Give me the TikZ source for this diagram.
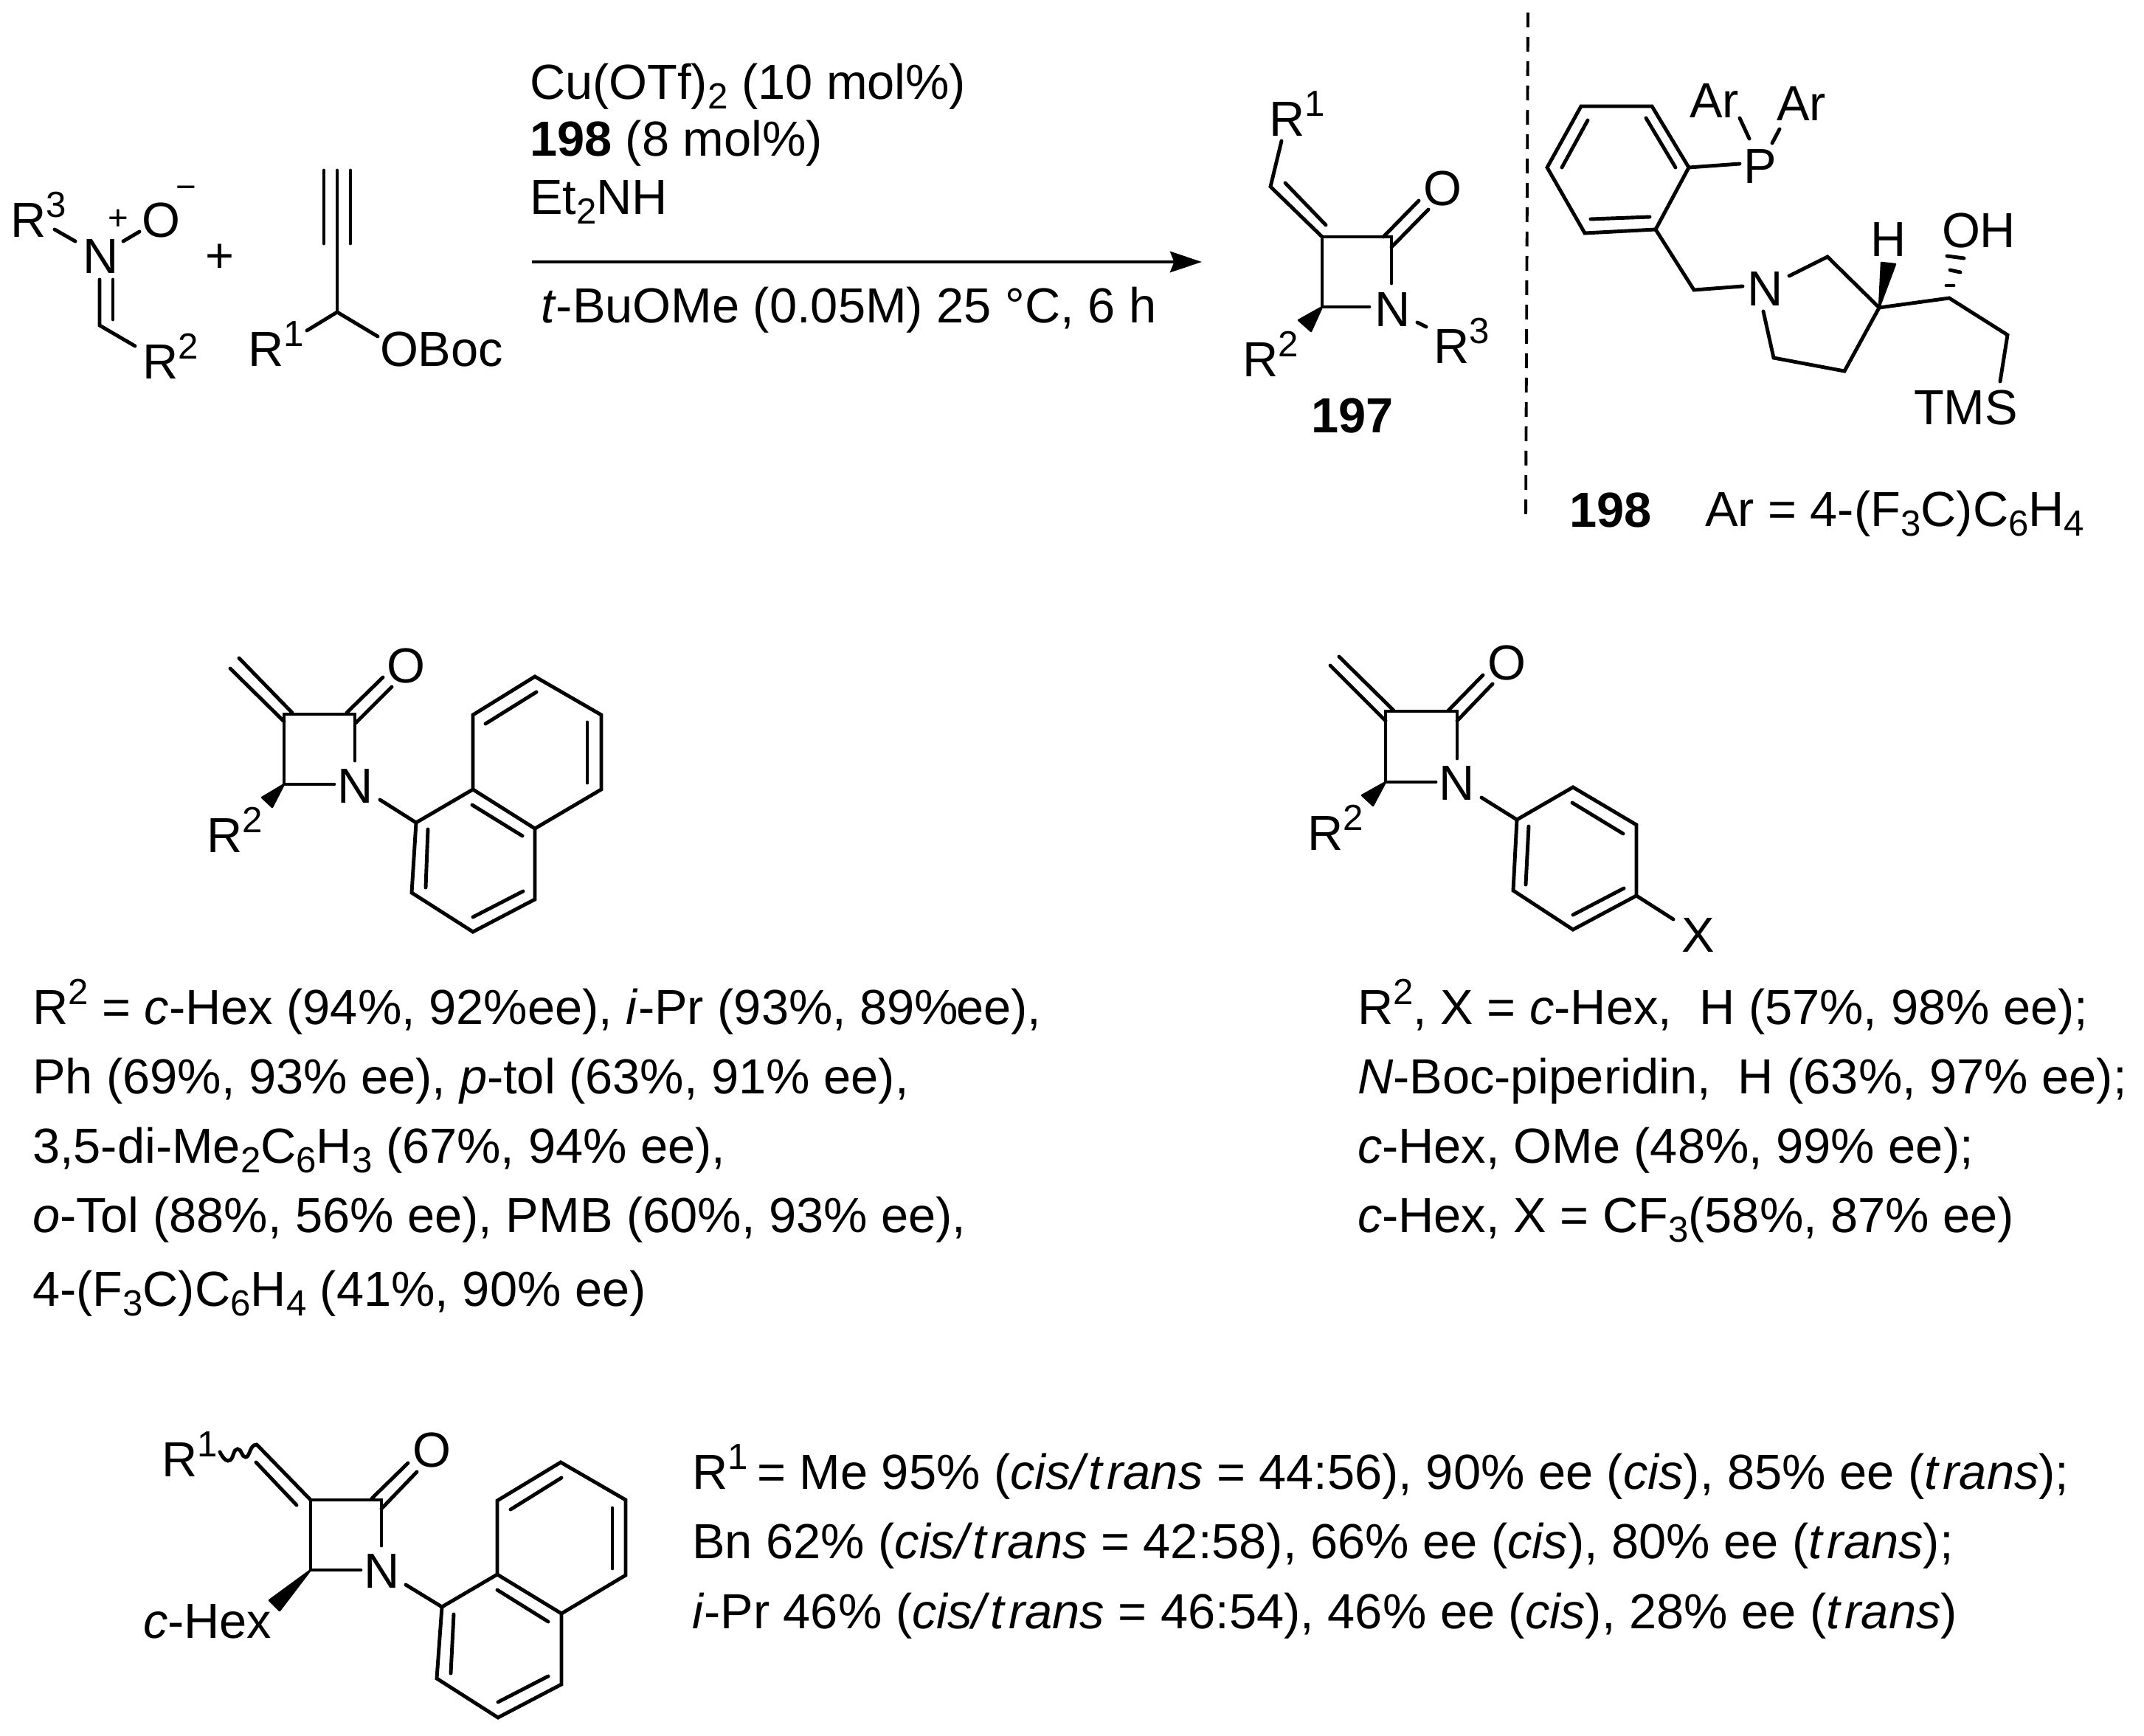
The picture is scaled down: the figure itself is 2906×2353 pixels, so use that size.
\documentclass[tikz,border=0pt]{standalone}
\usepackage{fontspec}
\setmainfont{Liberation Sans}
\usetikzlibrary{arrows.meta}
\newcommand\usp[1]{\raisebox{0.4em}{\fontsize{14}{14}\selectfont #1}}
\newcommand\dsb[1]{\raisebox{-0.2em}{\fontsize{14}{14}\selectfont #1}}
\newcommand\trn{\textit{t\kern0.1em rans}}
\tikzset{
  bond/.style={line width=1.4pt,line cap=round,line join=miter},
  wedge/.style={fill=black,draw=black,line width=0.7pt,line join=round},
  txt/.style={inner sep=0pt,outer sep=0pt,anchor=base west,font=\fontsize{19}{19}\selectfont},
  sign/.style={inner sep=0pt,outer sep=0pt,anchor=center,font=\fontsize{13.5}{13.5}\selectfont},
}
\begin{document}
\begin{tikzpicture}[x=0.1mm,y=-0.1mm]
\path[fill=white,use as bounding box] (0,0) rectangle (2906,2353);
% ---------- nitrone
\path (74,311) coordinate (nA) (102,327) coordinate (nB) (167,327) coordinate (nC) (189,314) coordinate (nD)
 (135,379) coordinate (nE) (135,441) coordinate (nF) (153,379) coordinate (nG) (153,433) coordinate (nH) (183,469) coordinate (nI);
\draw[bond] (nA)--(nB); \draw[bond] (nC)--(nD); \draw[bond] (nE)--(nF)--(nI); \draw[bond] (nG)--(nH);
\node[txt] (nR3) at (14,321) {R\usp{3}};
\node[txt] (nN) at (112,370) {N};
\node[sign] (nPlus) at (160,298) {+};
\node[txt] (nO) at (192,321) {O};
\node[sign] (nMinus) at (252,261) {−};
\node[txt] (nR2) at (193,513) {R\usp{2}};
\node[txt] (plusA) at (278,369) {+};
% ---------- alkyne
\path (457,231) coordinate (yA) (457,423) coordinate (yB) (439,231) coordinate (yC) (439,330) coordinate (yD)
 (475,231) coordinate (yE) (475,330) coordinate (yF) (416,448) coordinate (yG) (512,456) coordinate (yH);
\draw[bond] (yA)--(yB); \draw[bond] (yC)--(yD); \draw[bond] (yE)--(yF); \draw[bond] (yG)--(yB)--(yH);
\node[txt] (yR1) at (336,496) {R\usp{1}};
\node[txt] (yOBoc) at (515,496) {OBoc};
% ---------- reagents
\node[txt] (rA) at (718,134) {Cu(OTf)\dsb{2} (10 mol\%)};
\node[txt] (rB) at (718,211) {\textbf{198} (8 mol\%)};
\node[txt] (rC) at (718,290) {Et\dsb{2}NH};
\node[txt] (rD) at (733,437) {\textit{t}-BuOMe (0.05M) 25 °C, 6 h};
\path (721,355) coordinate (arA) (1629,355) coordinate (arB);
\draw[bond,line cap=butt,-{Stealth[length=12.2pt,width=8pt,inset=1.5pt]}] (arA)--(arB);
% ---------- 197
\path (1737,191) coordinate (pA) (1722,253) coordinate (pB) (1792,321) coordinate (pC) (1742,248) coordinate (pD) (1797,305) coordinate (pE)
 (1886,321) coordinate (pF) (1792,416) coordinate (pG) (1886,384) coordinate (pH) (1856,416) coordinate (pI)
 (1875,321) coordinate (pJ) (1923,272) coordinate (pK) (1886,335) coordinate (pL) (1936,284) coordinate (pM)
 (1921,437) coordinate (pN) (1933,443) coordinate (pO) (1760,434) coordinate (pP) (1777,449) coordinate (pQ);
\draw[bond] (pA)--(pB)--(pC); \draw[bond] (pD)--(pE); \draw[bond] (pI)--(pG)--(pC)--(pF)--(pH);
\draw[bond] (pJ)--(pK); \draw[bond] (pL)--(pM); \draw[bond] (pN)--(pO);
\fill[wedge] (pG)--(pP)--(pQ)--cycle;
\node[txt] (pR1) at (1720,184) {R\usp{1}};
\node[txt] (pOx) at (1929,278) {O};
\node[txt] (pNi) at (1863,442) {N};
\node[txt] (pR3) at (1943,492) {R\usp{3}};
\node[txt] (pR2) at (1684,510) {R\usp{2}};
\node[txt] (pLab) at (1777,586) {\textbf{197}};
% ---------- dashed divider
\path (2071,17) coordinate (dA) (2068,705) coordinate (dB);
\draw[line width=1.1pt,dash pattern=on 2mm off 1.3mm] (dA)--(dB);
% ---------- 198
\path (2143,144) coordinate (cA) (2239,144) coordinate (cB) (2289,227) coordinate (cC) (2244,311) coordinate (cD) (2148,316) coordinate (cE) (2097,227) coordinate (cF)
 (2231,160) coordinate (cG) (2271,227) coordinate (cH) (2152,163) coordinate (cI) (2117,227) coordinate (cJ) (2156,297) coordinate (cK) (2236,294) coordinate (cL)
 (2358,222) coordinate (cM) (2371,188) coordinate (cN) (2358,160) coordinate (cO) (2402,194) coordinate (cP) (2412,175) coordinate (cQ)
 (2296,393) coordinate (cR) (2362,388) coordinate (cS) (2425,374) coordinate (cT) (2477,348) coordinate (cU) (2547,417) coordinate (cV)
 (2500,503) coordinate (cW) (2404,485) coordinate (cX) (2390,422) coordinate (cY) (2550,356) coordinate (cZ) (2569,358) coordinate (cAa)
 (2642,404) coordinate (cAb) (2721,454) coordinate (cAc) (2711,517) coordinate (cAd)
 (2638,387) coordinate (hA) (2648,387) coordinate (hB) (2643,366) coordinate (hC) (2657,369) coordinate (hD) (2639,347) coordinate (hE) (2662,350) coordinate (hF);
\draw[bond] (cA)--(cB)--(cC)--(cD)--(cE)--(cF)--cycle;
\draw[bond] (cG)--(cH); \draw[bond] (cI)--(cJ); \draw[bond] (cK)--(cL);
\draw[bond] (cC)--(cM); \draw[bond] (cN)--(cO); \draw[bond] (cP)--(cQ);
\draw[bond] (cD)--(cR)--(cS); \draw[bond] (cT)--(cU)--(cV)--(cW)--(cX)--(cY);
\fill[wedge] (cV)--(cZ)--(cAa)--cycle;
\draw[bond] (cV)--(cAb)--(cAc)--(cAd);
\draw[bond] (hA)--(hB); \draw[bond] (hC)--(hD); \draw[bond] (hE)--(hF);
\node[txt] (cPh) at (2363,248) {P};
\node[txt] (cAr1) at (2290,159) {Ar};
\node[txt] (cAr2) at (2408,163) {Ar};
\node[txt] (cNi) at (2368,414) {N};
\node[txt] (cHy) at (2535,347) {H};
\node[txt] (cOH) at (2632,335) {OH};
\node[txt] (cTMS) at (2594,575) {TMS};
\node[txt] (cLab) at (2127,714) {\textbf{198}};
\node[txt] (cDef) at (2311,713) {Ar = 4-(F\dsb{3}C)C\dsb{6}H\dsb{4}};
% ---------- naphthyl lactam (middle left)
\path (385,968) coordinate (aA) (481,968) coordinate (aB) (385,1063) coordinate (aC) (481,1031) coordinate (aD) (453,1063) coordinate (aE)
 (385,978) coordinate (aF) (312,906) coordinate (aG) (396,966) coordinate (aH) (324,892) coordinate (aI)
 (470,966) coordinate (aJ) (519,918) coordinate (aK) (482,980) coordinate (aL) (531,931) coordinate (aM)
 (355,1081) coordinate (aN) (369,1094) coordinate (aO) (515,1084) coordinate (aP)
 (564,1115) coordinate (ar1) (641,1070) coordinate (ar2) (641,969) coordinate (ar3) (725,917) coordinate (ar4) (815,969) coordinate (ar5) (815,1070) coordinate (ar6)
 (725,1123) coordinate (ar7) (725,1219) coordinate (ar8) (641,1263) coordinate (ar9) (558,1210) coordinate (ar10)
 (658,981) coordinate (ai1) (727,938) coordinate (ai2) (796,979) coordinate (ai3) (796,1061) coordinate (ai4) (640,1091) coordinate (ai5) (708,1133) coordinate (ai6)
 (580,1124) coordinate (ai7) (577,1203) coordinate (ai8) (641,1243) coordinate (ai9) (709,1208) coordinate (ai10);
\draw[bond] (aE)--(aC)--(aA)--(aB)--(aD);
\draw[bond] (aF)--(aG); \draw[bond] (aH)--(aI); \draw[bond] (aJ)--(aK); \draw[bond] (aL)--(aM);
\fill[wedge] (aC)--(aN)--(aO)--cycle;
\draw[bond] (aP)--(ar1);
\draw[bond] (ar1)--(ar2)--(ar3)--(ar4)--(ar5)--(ar6)--(ar7)--(ar8)--(ar9)--(ar10)--cycle;
\draw[bond] (ar2)--(ar7);
\draw[bond] (ai1)--(ai2); \draw[bond] (ai3)--(ai4); \draw[bond] (ai5)--(ai6); \draw[bond] (ai7)--(ai8); \draw[bond] (ai9)--(ai10);
\node[txt] (aOx) at (524,925) {O};
\node[txt] (aNi) at (457,1088) {N};
\node[txt] (aR2) at (280,1155) {R\usp{2}};
% ---------- aryl lactam (middle right)
\path (1878,964) coordinate (bA) (1975,964) coordinate (bB) (1878,1060) coordinate (bC) (1975,1028) coordinate (bD) (1946,1060) coordinate (bE)
 (1878,977) coordinate (bF) (1803,902) coordinate (bG) (1889,963) coordinate (bH) (1815,890) coordinate (bI)
 (1963,963) coordinate (bJ) (2010,915) coordinate (bK) (1975,977) coordinate (bL) (2023,927) coordinate (bM)
 (1846,1078) coordinate (bN) (1861,1092) coordinate (bO) (2008,1081) coordinate (bP)
 (2056,1111) coordinate (br1) (2132,1067) coordinate (br2) (2218,1118) coordinate (br3) (2218,1214) coordinate (br4) (2132,1260) coordinate (br5) (2051,1207) coordinate (br6)
 (2131,1088) coordinate (bi1) (2200,1130) coordinate (bi2) (2072,1120) coordinate (bi3) (2068,1199) coordinate (bi4) (2132,1240) coordinate (bi5) (2201,1204) coordinate (bi6)
 (2268,1246) coordinate (bX);
\draw[bond] (bE)--(bC)--(bA)--(bB)--(bD);
\draw[bond] (bF)--(bG); \draw[bond] (bH)--(bI); \draw[bond] (bJ)--(bK); \draw[bond] (bL)--(bM);
\fill[wedge] (bC)--(bN)--(bO)--cycle;
\draw[bond] (bP)--(br1); \draw[bond] (br4)--(bX);
\draw[bond] (br1)--(br2)--(br3)--(br4)--(br5)--(br6)--cycle;
\draw[bond] (bi1)--(bi2); \draw[bond] (bi3)--(bi4); \draw[bond] (bi5)--(bi6);
\node[txt] (bOx) at (2016,921) {O};
\node[txt] (bNi) at (1950,1084) {N};
\node[txt] (bR2) at (1772,1152) {R\usp{2}};
\node[txt] (bXl) at (2279,1290) {X};
% ---------- text block left
\node[txt] (tA1) at (44,1388) {R\usp{2} = \textit{c}-Hex (94\%, 92\%ee), \textit{i}-Pr (93\%, 89\%\kern-0.05em ee),};
\node[txt] (tA2) at (44,1482) {Ph (69\%, 93\% ee), \textit{p}-tol (63\%, 91\% ee),};
\node[txt] (tA3) at (44,1576) {3,5-di-Me\dsb{2}C\dsb{6}H\dsb{3} (67\%, 94\% ee),};
\node[txt] (tA4) at (44,1670) {\textit{o}-Tol (88\%, 56\% ee), PMB (60\%, 93\% ee),};
\node[txt] (tA5) at (44,1770) {4-(F\dsb{3}C)C\dsb{6}H\dsb{4} (41\%, 90\% ee)};
% ---------- text block right
\node[txt] (tB1) at (1840,1388) {R\usp{2}, X = \textit{c}-Hex,\ \ H (57\%, 98\% ee);};
\node[txt] (tB2) at (1840,1482) {\textit{N}-Boc-piperidin,\ \ H (63\%, 97\% ee);};
\node[txt] (tB3) at (1840,1576) {\textit{c}-Hex, OMe (48\%, 99\% ee);};
\node[txt] (tB4) at (1840,1670) {\textit{c}-Hex, X = CF\dsb{3}(58\%, 87\% ee)};
% ---------- bottom lactam
\path (421,2033) coordinate (eA) (517,2033) coordinate (eB) (421,2128) coordinate (eC) (517,2095) coordinate (eD) (489,2128) coordinate (eE)
 (348,1958) coordinate (eF) (402,2040) coordinate (eG) (347,1982) coordinate (eH)
 (504,2031) coordinate (eJ) (553,1983) coordinate (eK) (517,2045) coordinate (eL) (565,1995) coordinate (eM)
 (365,2169) coordinate (eN) (379,2183) coordinate (eO) (550,2148) coordinate (eP)
 (599,2178) coordinate (er1) (674,2134) coordinate (er2) (674,2034) coordinate (er3) (760,1982) coordinate (er4) (848,2033) coordinate (er5) (848,2135) coordinate (er6)
 (761,2187) coordinate (er7) (761,2283) coordinate (er8) (675,2328) coordinate (er9) (592,2275) coordinate (er10)
 (692,2046) coordinate (ei1) (761,2003) coordinate (ei2) (830,2044) coordinate (ei3) (830,2126) coordinate (ei4) (674,2155) coordinate (ei5) (743,2198) coordinate (ei6)
 (615,2188) coordinate (ei7) (611,2268) coordinate (ei8) (675,2307) coordinate (ei9) (743,2272) coordinate (ei10)
 (298,1968) coordinate (eW);
\draw[bond] (eE)--(eC)--(eA)--(eB)--(eD);
\draw[bond] (eA)--(eF); \draw[bond] (eG)--(eH); \draw[bond] (eJ)--(eK); \draw[bond] (eL)--(eM);
\draw[bond] (eW) .. controls (303,1978) and (308,1982) .. (312,1979) .. controls (317,1976) and (316,1964) .. (322,1964) .. controls (328,1964) and (327,1975) .. (333,1975) .. controls (339,1975) and (338,1958) .. (eF);
\fill[wedge] (eC)--(eN)--(eO)--cycle;
\draw[bond] (eP)--(er1);
\draw[bond] (er1)--(er2)--(er3)--(er4)--(er5)--(er6)--(er7)--(er8)--(er9)--(er10)--cycle;
\draw[bond] (er2)--(er7);
\draw[bond] (ei1)--(ei2); \draw[bond] (ei3)--(ei4); \draw[bond] (ei5)--(ei6); \draw[bond] (ei7)--(ei8); \draw[bond] (ei9)--(ei10);
\node[txt] (eOx) at (559,1988) {O};
\node[txt] (eNi) at (493,2152) {N};
\node[txt] (eR1) at (219,2001) {R\usp{1}};
\node[txt] (eHex) at (194,2220) {\textit{c}-Hex};
% ---------- text block bottom
\node[txt] (tC1) at (938,2018) {R\usp{1}\kern-0.09em\ = Me 95\% (\textit{cis/}\trn{} = 44:56), 90\% ee (\textit{cis}), 85\% ee (\trn);};
\node[txt] (tC2) at (938,2112) {Bn 62\% (\textit{cis/}\trn{} = 42:58), 66\% ee (\textit{cis}), 80\% ee (\trn);};
\node[txt] (tC3) at (938,2207) {\textit{i}-Pr 46\% (\textit{cis/}\trn{} = 46:54), 46\% ee (\textit{cis}), 28\% ee (\trn)};
\end{tikzpicture}
\end{document}
